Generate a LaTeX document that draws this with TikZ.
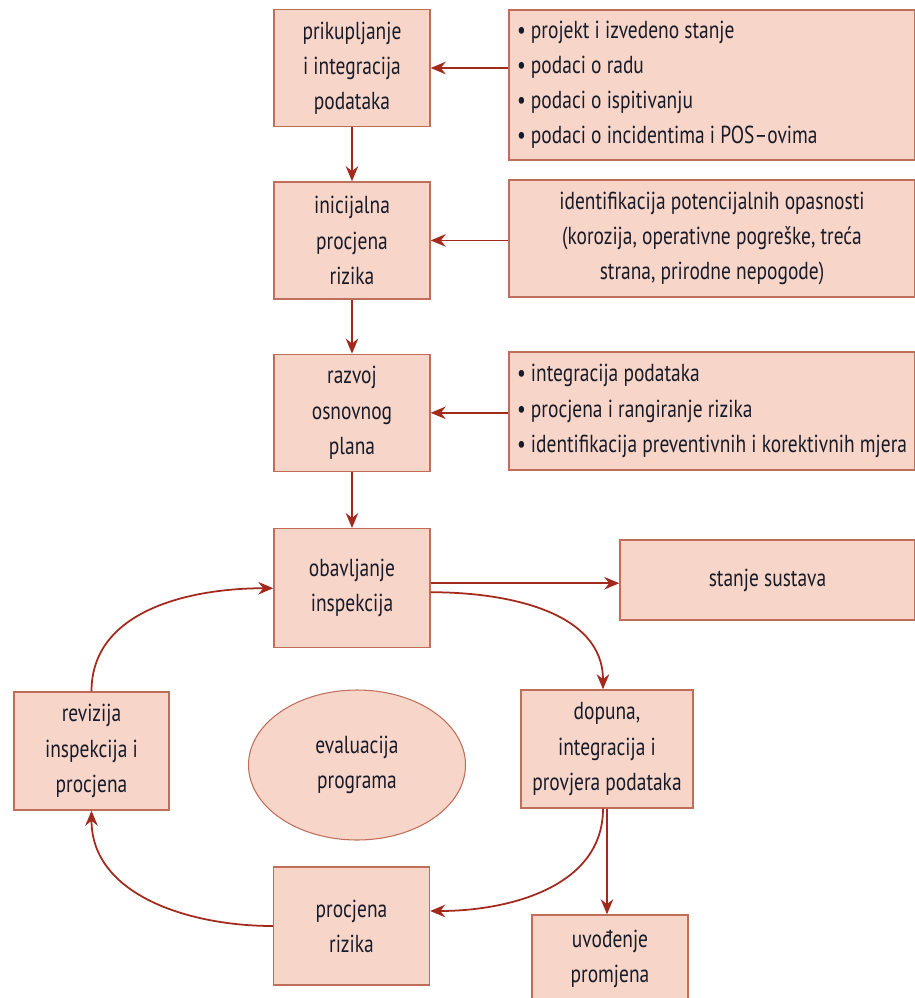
\documentclass[tikz,border=0pt]{standalone}
\usepackage{fontspec}
\setmainfont{PT Sans}[FakeStretch=0.79]
\usepackage{tikz}
\usetikzlibrary{shapes.geometric, arrows.meta, positioning}
\definecolor{bojaPolje}{RGB}{247, 214, 201}
\definecolor{bojaRub}{RGB}{190, 110, 90}
\definecolor{bojaStrelica}{RGB}{163, 41, 28}
\definecolor{bojaTekst}{RGB}{24, 26, 40}

\begin{document}
\begin{tikzpicture}[
    kutija/.style={draw=bojaRub, fill=bojaPolje, line width=0.8pt, minimum width=3.12cm,
                   minimum height=2.34cm, align=flush center, text=bojaTekst,
                   font=\fontsize{14}{20}\selectfont},
    popis/.style={kutija, text width=7.8cm, inner xsep=0.16cm, align=flush left},
    strelica/.style={-{Stealth[length=3mm, width=2.5mm]}, draw=bojaStrelica, line width=1pt},
    node distance=1.08cm
]
\useasboundingbox (0,0) rectangle (18.3,-19.96);

% glavni stupac
\node[kutija] (prik) at (7.04,-1.36) {prikupljanje\\i integracija\\podataka};
\node[kutija, below=of prik] (inic) {inicijalna\\procjena\\rizika};
\node[kutija, below=of inic] (razv) {razvoj\\osnovnog\\plana};
\node[kutija, minimum height=2.38cm, below=1.12cm of razv] (obav) {obavljanje\\inspekcija};

% ulazni podaci
\node[popis, minimum height=3.0cm] (podaci) at (14.24,-1.7)
    {\textbullet\ projekt i izvedeno stanje\\
     \textbullet\ podaci o radu\\
     \textbullet\ podaci o ispitivanju\\
     \textbullet\ podaci o incidentima i POS--ovima};
\node[popis, align=flush center] (opasnosti) at (14.24,-4.77)
    {identifikacija potencijalnih opasnosti\\
     (korozija, operativne pogreške, treća\\
     strana, prirodne nepogode)};
\node[popis, minimum height=2.36cm] (plan) at (14.24,-8.22)
    {\textbullet\ integracija podataka\\
     \textbullet\ procjena i rangiranje rizika\\
     \mbox{\textbullet\ identifikacija preventivnih i korektivnih mjera}};

% ciklus
\node[kutija, minimum width=5.9cm, minimum height=1.6cm] (stanje) at (15.35,-11.6) {stanje sustava};
\node[kutija, minimum width=3.44cm, minimum height=2.36cm] (dopuna) at (12.14,-14.98)
    {dopuna,\\integracija i\\provjera podataka};
\node[kutija, minimum height=2.36cm] (proc) at (7.03,-18.52) {procjena\\rizika};
\node[kutija, minimum width=3.1cm, minimum height=2.36cm] (revizija) at (1.83,-15.02)
    {revizija\\inspekcija i\\procjena};
\node[kutija, minimum height=1.76cm] (uvod) at (12.2,-19.18) {uvođenje\\promjena};
\node[ellipse, draw=bojaRub, fill=bojaPolje, line width=0.6pt, minimum width=4.34cm,
      minimum height=3.0cm, align=flush center, text=bojaTekst,
      font=\fontsize{14}{20}\selectfont] (eval) at (7.14,-15.3) {evaluacija\\programa};

\draw[strelica] (prik) -- (inic);
\draw[strelica] (inic) -- (razv);
\draw[strelica] (razv) -- (obav);

\draw[strelica] (prik.east -| podaci.west) -- (prik.east);
\draw[strelica] (inic.east -| opasnosti.west) -- (inic.east);
\draw[strelica] (razv.east -| plan.west) -- (razv.east);

\draw[strelica] ([yshift=1mm]obav.east) -- ([yshift=1mm]obav.east -| stanje.west);
\draw[strelica] ([yshift=-0.08cm]obav.east) to[out=0, in=90] ([xshift=-0.08cm]dopuna.north);
\draw[strelica] (dopuna.south) -- (dopuna.south |- uvod.north);
\draw[strelica] ([xshift=-0.08cm]dopuna.south) to[out=-90, in=0] ([yshift=0.3cm]proc.east);
\draw[strelica] (proc.west) to[out=180, in=-90] (revizija.south);
\draw[strelica] (revizija.north) to[out=90, in=180] (obav.west);
\end{tikzpicture}
\end{document}
